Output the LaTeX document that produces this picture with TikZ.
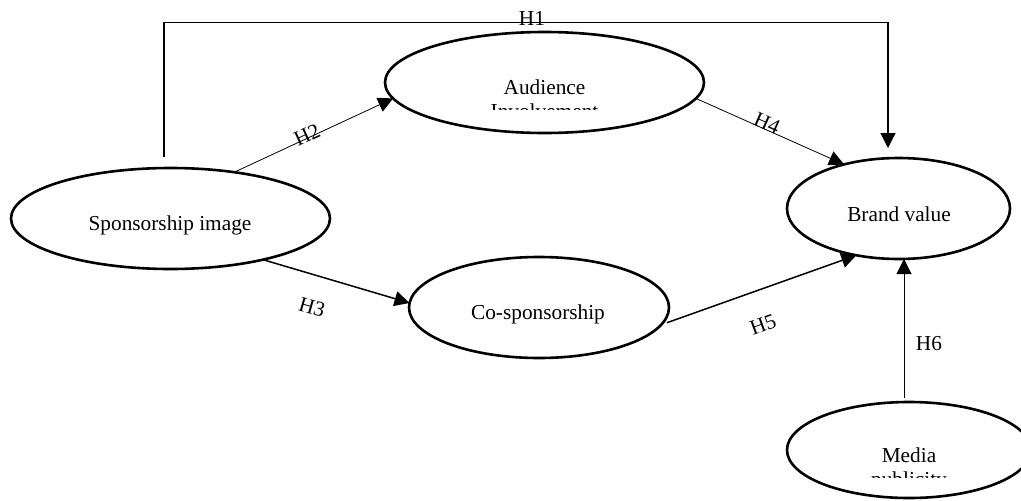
\documentclass[tikz,border=0pt]{standalone}
\usepackage{fontspec}
\setmainfont{Liberation Serif}
\usetikzlibrary{shapes.geometric,arrows.meta,calc}
\begin{document}
\begin{tikzpicture}[x=1pt,y=-1pt,
  every node/.style={inner sep=0pt,outer sep=0pt},
  oval/.style={ellipse,draw,line width=2.6pt},
  txt/.style={anchor=base,font=\fontsize{21.3}{25}\selectfont},
  lbl/.style={font=\fontsize{21.3}{25}\selectfont},
  arr/.style={-{Triangle[length=15pt,width=15pt]}},
]
\useasboundingbox (0,0) rectangle (1021,501);
% ellipses
\node[oval,minimum width=319,minimum height=101] (spons) at (170.5,218.5) {};
\node[oval,minimum width=319,minimum height=101] (aud) at (544.5,82.5) {};
\node[oval,minimum width=260,minimum height=101] (cosp) at (539,307.5) {};
\node[oval,minimum width=223,minimum height=101] (brand) at (898.5,208.5) {};
\node[oval,minimum width=244,minimum height=96] (media) at (909,450) {};
% texts
\node[txt] (spons-t) at (170,230) {Sponsorship image};
\node[txt] (aud-t1) at (544.5,94) {Audience};
\begin{scope}
  \clip (390,40) rectangle (700,109);
  \node[txt] (aud-t2) at (544.5,118) {Involvement};
\end{scope}
\node[txt] (cosp-t) at (538,319) {Co-sponsorship};
\node[txt] (brand-t) at (899,221) {Brand value};
\node[txt] (media-t1) at (909,462) {Media};
\begin{scope}
  \clip (800,440) rectangle (1021,477.5);
  \node[txt] (media-t2) at (909,486) {publicity};
\end{scope}
% connectors
\coordinate (h1a) at (164,22.5);
\coordinate (h1b) at (888,22.5);
\draw[arr,line width=1.2pt] ($(spons.north)+(-6.5,-11)$) -- (h1a) -- (h1b) -- ($(brand.north)+(-10.5,-10)$);
\node[lbl,anchor=base] (h1) at (532,25) {H1};
\draw[arr,line width=0.8pt] (spons.36.4) -- (aud.186.2);
\draw[arr,line width=0.8pt] (aud.-6.1) -- (brand.141.2);
\draw[arr,line width=1.5pt] (spons.-24.7) -- (cosp.178);
\draw[arr,line width=1.5pt] ($(cosp.-7)+(4,0)$) -- (brand.228.5);
\coordinate (h6x) at (904,0);
\draw[arr,line width=1pt] ($(h6x |- media.north)+(0,-4)$) -- (h6x |- brand.south);
% labels
\node[lbl,rotate=24.6] (h2) at (307,135) {H2};
\node[lbl,rotate=-24] (h4) at (767,123) {H4};
\node[lbl,rotate=-16] (h3) at (312,307) {H3};
\node[lbl,rotate=20] (h5) at (763,325) {H5};
\node[lbl] (h6) at (929,344) {H6};
\end{tikzpicture}
\end{document}
